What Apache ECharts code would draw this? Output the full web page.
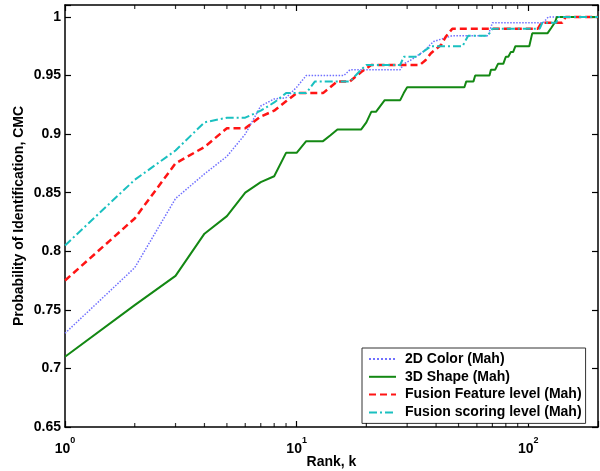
<!DOCTYPE html>
<html>
<head>
<meta charset="utf-8">
<script src="https://cdn.jsdelivr.net/npm/echarts@6/dist/echarts.min.js"></script>
<style>
html,body{margin:0;padding:0;background:#fff;}
#chart{width:600px;height:471px;}
</style>
</head>
<body>
<div id="chart"></div>
<script>
// ---- Data ----
const seriesNames = ['2D Color (Mah)', '3D Shape (Mah)', 'Fusion Feature level (Mah)', 'Fusion scoring level (Mah)'];

const ranksColor  = [1,2,3,4,5,6,7,8,9,10,11,16,17,28,29,31,35,39,47,67,70,116,122,200];
const valuesColor = [0.730,0.786,0.845,0.866,0.881,0.900,0.924,0.930,0.931,0.940,0.950,0.950,0.955,0.955,0.960,0.963,0.970,0.979,0.984,0.984,0.995,0.995,1.0,1.0];

const ranksShape  = [1,2,3,4,5,6,7,8,9,10,11,13,14,15,19,20,21,22,24,28,29,30,53,54,58,59,68,69,72,74,78,80,82,84,86,88,101,104,121,126,130,133,200];
const valuesShape = [0.710,0.754,0.779,0.815,0.830,0.850,0.859,0.864,0.884,0.884,0.894,0.894,0.899,0.904,0.904,0.910,0.919,0.919,0.929,0.929,0.935,0.940,0.940,0.945,0.945,0.950,0.950,0.955,0.955,0.960,0.960,0.966,0.966,0.970,0.970,0.975,0.975,0.986,0.986,0.991,0.995,1.0,1.0];

const ranksFeature  = [1,2,3,4,5,6,7,8,9,10,13,15,17,19,21,34,36,38,42,44,47,110,114,140,145,200];
const valuesFeature = [0.775,0.828,0.875,0.889,0.905,0.905,0.915,0.920,0.928,0.935,0.935,0.945,0.945,0.953,0.959,0.959,0.963,0.969,0.976,0.983,0.990,0.990,0.995,0.995,1.0,1.0];

const ranksScoring  = [1,2,3,4,5,6,7,8,9,11,12,17,19,20,28,29,33,35,38,52,55,67,70,112,115,132,135,200];
const valuesScoring = [0.805,0.861,0.886,0.910,0.914,0.914,0.920,0.927,0.935,0.935,0.945,0.945,0.955,0.959,0.959,0.966,0.966,0.970,0.975,0.975,0.984,0.984,0.990,0.990,0.995,0.995,1.0,1.0];

// axis settings
const xMin = 1, xMax = 200;
const yMin = 0.65, yMax = 1.0102, yStep = 0.05;
const xMinorTicks = [2,3,4,5,6,7,8,9,20,30,40,50,60,70,80,90];

// ---- Chart ----
const FONT = '"Liberation Sans", Arial, Helvetica, sans-serif';
const zip = (xs, ys) => xs.map((x, i) => [x, ys[i]]);
const frameLine = {show: true, lineStyle: {color: '#000', width: 1.5}};
const majorTick = {show: true, inside: true, length: 6, lineStyle: {color: '#000', width: 1.2}};

const chart = echarts.init(document.getElementById('chart'), null, {renderer: 'canvas'});

const lineSeries = (name, xs, ys, color, width, type, z) => ({
  name, type: 'line', data: zip(xs, ys), symbol: 'none', showSymbol: false,
  lineStyle: {color, width, type}, itemStyle: {color}, z, animation: false
});

const option = {
  animation: false,
  backgroundColor: '#fff',
  textStyle: {fontFamily: FONT},
  grid: {left: 65, right: 2, top: 5, bottom: 44, containLabel: false, outerBoundsMode: 'none'},
  legend: {
    data: seriesNames,
    orient: 'vertical',
    left: 362, top: 348,
    itemWidth: 27, itemHeight: 14, itemGap: 3.8,
    padding: [4, 4, 4, 6],
    borderColor: '#333', borderWidth: 1, backgroundColor: '#fff',
    itemStyle: {opacity: 0},
    textStyle: {fontFamily: FONT, fontSize: 14, fontWeight: 'bold', color: '#000', padding: [0, 0, 0, 4]}
  },
  xAxis: [
    {
      type: 'log', logBase: 10, min: xMin, max: xMax, position: 'bottom',
      axisLine: frameLine, axisTick: majorTick, splitLine: {show: false},
      axisLabel: {
        margin: 9, color: '#000',
        formatter: function (v) {
          const e = Math.log10(v);
          if (Math.abs(e - Math.round(e)) > 1e-6) return '';
          return '{b|10}{s|' + Math.round(e) + '}';
        },
        rich: {
          b: {fontFamily: FONT, fontSize: 14, fontWeight: 'bold', color: '#000', lineHeight: 20, verticalAlign: 'bottom'},
          s: {fontFamily: FONT, fontSize: 9, fontWeight: 'bold', color: '#000', lineHeight: 10, verticalAlign: 'top'}
        }
      },
      name: 'Rank, k', nameLocation: 'middle', nameGap: 28, nameMoveOverlap: false,
      nameTextStyle: {fontFamily: FONT, fontSize: 14, fontWeight: 'bold', color: '#000'}
    },
    {
      type: 'log', logBase: 10, min: xMin, max: xMax, position: 'top',
      axisLine: frameLine, axisTick: majorTick, axisLabel: {show: false}, splitLine: {show: false}
    }
  ],
  yAxis: [
    {
      type: 'value', min: yMin, max: yMax, interval: yStep, position: 'left',
      axisLine: frameLine, axisTick: majorTick, splitLine: {show: false},
      axisLabel: {
        margin: 4, color: '#000', fontFamily: FONT, fontSize: 14, fontWeight: 'bold',
        formatter: v => (v > 1.0001 ? '' : String(Math.round(v * 100) / 100))
      },
      name: 'Probability of Identification, CMC', nameLocation: 'middle', nameGap: 39, nameRotate: 90,
      nameMoveOverlap: false,
      nameTextStyle: {fontFamily: FONT, fontSize: 14, fontWeight: 'bold', color: '#000'}
    },
    {
      type: 'value', min: yMin, max: yMax, interval: yStep, position: 'right',
      axisLine: frameLine, axisTick: majorTick, axisLabel: {show: false}, splitLine: {show: false}
    }
  ],
  series: [
    lineSeries(seriesNames[0], ranksColor, valuesColor, '#7070ff', 1.5, 'dotted', 2),
    lineSeries(seriesNames[1], ranksShape, valuesShape, '#138813', 2, 'solid', 3),
    lineSeries(seriesNames[2], ranksFeature, valuesFeature, '#ff1414', 2.5, [7, 4], 4),
    lineSeries(seriesNames[3], ranksScoring, valuesScoring, '#1ac0c0', 2, [8, 3, 2, 3], 5),
    {
      name: 'minorBottom', type: 'scatter', silent: true, clip: false, z: 6,
      data: xMinorTicks.map(v => [v, yMin]),
      symbol: 'rect', symbolSize: [1.2, 4], symbolOffset: [0, -2],
      itemStyle: {color: '#000'}
    },
    {
      name: 'minorTop', type: 'scatter', silent: true, clip: false, z: 6,
      data: xMinorTicks.map(v => [v, yMax]),
      symbol: 'rect', symbolSize: [1.2, 4], symbolOffset: [0, 2],
      itemStyle: {color: '#000'}
    }
  ]
};
chart.setOption(option);
</script>
</body>
</html>
